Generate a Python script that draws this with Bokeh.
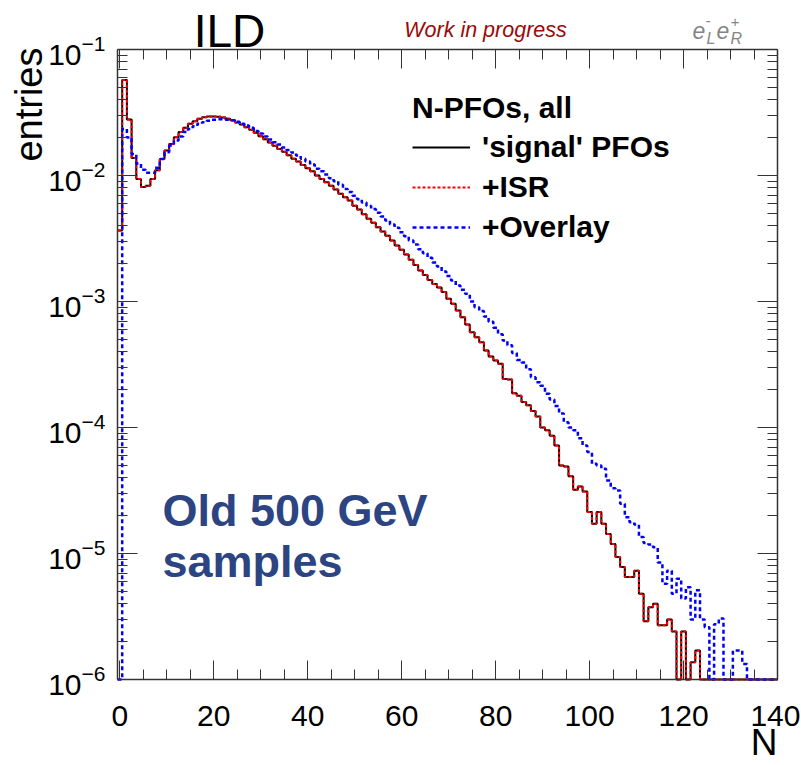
import numpy as np
from bokeh.plotting import figure
from bokeh.models import (Range1d, LinearAxis, LogAxis, FixedTicker, Label, Legend, LegendItem)
from bokeh.embed import file_html
from bokeh.resources import INLINE

# ---------------- data (bin contents, bins centred on N = 0,1,2,...) ----------------
signal = [3.66e-3, 5.74e-2, 2.78e-2, 1.38e-2, 9.4e-3, 8.1e-3, 8.3e-3, 9.4e-3, 1.10e-2, 1.35e-2,
          1.58e-2, 1.78e-2, 2.01e-2, 2.21e-2, 2.39e-2, 2.57e-2, 2.69e-2, 2.82e-2, 2.90e-2, 2.94e-2,
          2.94e-2, 2.92e-2, 2.88e-2, 2.82e-2, 2.74e-2, 2.64e-2, 2.54e-2, 2.42e-2, 2.31e-2, 2.18e-2,
          2.05e-2, 1.94e-2, 1.83e-2, 1.72e-2, 1.62e-2, 1.54e-2, 1.45e-2, 1.36e-2, 1.29e-2, 1.21e-2,
          1.14e-2, 1.08e-2, 1.00e-2, 9.4e-3, 8.85e-3, 8.28e-3, 7.74e-3, 7.16e-3, 6.73e-3, 6.34e-3,
          5.75e-3, 5.37e-3, 4.93e-3, 4.53e-3, 4.21e-3, 3.89e-3, 3.60e-3, 3.32e-3, 3.05e-3, 2.78e-3,
          2.57e-3, 2.36e-3, 2.14e-3, 1.95e-3, 1.76e-3, 1.62e-3, 1.48e-3, 1.38e-3, 1.29e-3, 1.19e-3,
          1.05e-3, 9.6e-4, 8.5e-4, 7.5e-4, 6.56e-4, 5.71e-4, 5.21e-4, 4.75e-4, 4.08e-4, 3.66e-4,
          3.40e-4, 3.20e-4, 2.43e-4, 2.40e-4, 1.87e-4, 1.79e-4, 1.59e-4, 1.50e-4, 1.35e-4, 1.22e-4,
          1.00e-4, 9.5e-5, 8.6e-5, 7.2e-5, 5.0e-5, 4.9e-5, 4.1e-5, 3.2e-5, 3.4e-5, 3.1e-5,
          2.13e-5, 1.72e-5, 2.13e-5, 1.72e-5, 1.43e-5, 1.19e-5, 9.4e-6, 7.8e-6, 6.5e-6, 6.5e-6,
          7.3e-6, 4.8e-6, 2.9e-6, 3.75e-6, 4.0e-6, 2.7e-6, 2.7e-6, 3.0e-6, 2.4e-6, 0.0,
          2.4e-6, 0.0, 1.37e-6, 1.7e-6, 0.0, 0.0, 0.0, 0.0, 0.0, 0.0,
          0.0, 0.0, 0.0, 0.0, 0.0, 0.0, 0.0, 0.0, 0.0, 0.0, 0.0]

isr = [3.66e-3, 5.74e-2, 2.78e-2, 1.38e-2, 9.4e-3, 8.1e-3, 8.3e-3, 9.4e-3, 1.10e-2, 1.35e-2,
       1.58e-2, 1.78e-2, 2.01e-2, 2.21e-2, 2.39e-2, 2.57e-2, 2.69e-2, 2.82e-2, 2.90e-2, 2.94e-2,
       2.94e-2, 2.92e-2, 2.88e-2, 2.82e-2, 2.74e-2, 2.64e-2, 2.54e-2, 2.42e-2, 2.31e-2, 2.18e-2,
       2.05e-2, 1.94e-2, 1.83e-2, 1.72e-2, 1.62e-2, 1.54e-2, 1.45e-2, 1.36e-2, 1.29e-2, 1.21e-2,
       1.14e-2, 1.08e-2, 1.00e-2, 9.4e-3, 8.85e-3, 8.28e-3, 7.74e-3, 7.16e-3, 6.73e-3, 6.34e-3,
       5.75e-3, 5.37e-3, 4.93e-3, 4.53e-3, 4.21e-3, 3.89e-3, 3.60e-3, 3.32e-3, 3.05e-3, 2.78e-3,
       2.57e-3, 2.36e-3, 2.14e-3, 1.95e-3, 1.76e-3, 1.62e-3, 1.48e-3, 1.38e-3, 1.29e-3, 1.19e-3,
       1.05e-3, 9.6e-4, 8.5e-4, 7.5e-4, 6.56e-4, 5.71e-4, 5.21e-4, 4.75e-4, 4.08e-4, 3.66e-4,
       3.40e-4, 3.20e-4, 2.43e-4, 2.40e-4, 1.87e-4, 1.79e-4, 1.59e-4, 1.50e-4, 1.35e-4, 1.22e-4,
       1.00e-4, 9.5e-5, 8.6e-5, 7.2e-5, 5.0e-5, 4.9e-5, 4.1e-5, 3.2e-5, 3.4e-5, 3.1e-5,
       2.13e-5, 1.72e-5, 2.13e-5, 1.72e-5, 1.43e-5, 1.19e-5, 9.4e-6, 7.8e-6, 6.5e-6, 6.5e-6,
       7.3e-6, 4.8e-6, 2.9e-6, 3.75e-6, 4.0e-6, 2.7e-6, 2.7e-6, 3.0e-6, 2.4e-6, 0.0,
       2.4e-6, 0.0, 1.37e-6, 1.7e-6, 0.0, 0.0, 0.0, 0.0, 0.0, 0.0,
       0.0, 0.0, 0.0, 0.0, 0.0, 0.0, 0.0, 0.0, 0.0, 0.0, 0.0]

overlay = [0.0, 2.34e-2, 2.00e-2, 1.48e-2, 1.245e-2, 1.11e-2, 1.05e-2, 1.05e-2, 1.15e-2, 1.355e-2,
           1.53e-2, 1.73e-2, 1.90e-2, 2.04e-2, 2.21e-2, 2.34e-2, 2.46e-2, 2.57e-2, 2.65e-2, 2.72e-2,
           2.77e-2, 2.80e-2, 2.80e-2, 2.77e-2, 2.74e-2, 2.67e-2, 2.58e-2, 2.49e-2, 2.39e-2, 2.26e-2,
           2.15e-2, 2.04e-2, 1.93e-2, 1.84e-2, 1.76e-2, 1.67e-2, 1.59e-2, 1.52e-2, 1.44e-2, 1.36e-2,
           1.29e-2, 1.22e-2, 1.13e-2, 1.08e-2, 1.02e-2, 9.53e-3, 9.02e-3, 8.43e-3, 7.83e-3, 7.41e-3,
           6.90e-3, 6.49e-3, 6.11e-3, 5.74e-3, 5.41e-3, 5.06e-3, 4.73e-3, 4.40e-3, 4.08e-3, 3.85e-3,
           3.55e-3, 3.30e-3, 3.05e-3, 2.83e-3, 2.60e-3, 2.42e-3, 2.22e-3, 2.04e-3, 1.90e-3, 1.73e-3,
           1.59e-3, 1.47e-3, 1.34e-3, 1.24e-3, 1.15e-3, 1.00e-3, 9.0e-4, 8.4e-4, 7.6e-4, 6.9e-4,
           6.2e-4, 5.5e-4, 4.9e-4, 4.5e-4, 3.9e-4, 3.44e-4, 3.28e-4, 2.90e-4, 2.50e-4, 2.29e-4,
           2.14e-4, 1.85e-4, 1.67e-4, 1.48e-4, 1.29e-4, 1.10e-4, 1.00e-4, 9.5e-5, 8.2e-5, 7.2e-5,
           6.4e-5, 5.15e-5, 5.0e-5, 4.7e-5, 3.8e-5, 3.3e-5, 3.16e-5, 2.48e-5, 1.94e-5, 1.77e-5,
           1.70e-5, 1.35e-5, 1.21e-5, 1.18e-5, 1.12e-5, 8.5e-6, 5.75e-6, 7.3e-6, 4.8e-6, 6.3e-6,
           4.4e-6, 5.4e-6, 3.0e-6, 5.1e-6, 3.0e-6, 2.6e-6, 0.0, 2.75e-6, 3.05e-6, 0.0,
           0.0, 1.7e-6, 1.7e-6, 1.33e-6, 0.0, 0.0, 0.0, 0.0, 0.0, 0.0, 0.0]

series_labels = ["'signal' PFOs", "+ISR", "+Overlay"]
legend_title = "N-PFOs, all"
x_major = [0, 20, 40, 60, 80, 100, 120, 140]
y_major = [1e-6, 1e-5, 1e-4, 1e-3, 1e-2, 1e-1]

X0, X1 = -0.5, 140.0          # axis extent (data)
Y0, Y1 = 1e-6, 1e-1

# ---------------- geometry ----------------
W, H = 800, 764
BL, BR, BT, BB = 117, 777, 49, 679      # axis box edges in canvas pixels
FONT = "Liberation Sans"

# the plot frame covers the whole canvas; the axes are drawn at fixed data locations
PXU = (BR - BL) / (X1 - X0)
PXD = (BB - BT) / (np.log10(Y1) - np.log10(Y0))
x_start = X0 - BL / PXU
x_end = x_start + W / PXU
ly_top = np.log10(Y1) + BT / PXD
ly_bot = ly_top - H / PXD

p = figure(width=W, height=H, output_backend="svg", toolbar_location=None, title=None,
           x_range=Range1d(x_start, x_end), y_range=Range1d(10 ** ly_bot, 10 ** ly_top),
           y_axis_type="log",
           min_border_left=0, min_border_right=0, min_border_top=0, min_border_bottom=0)
p.xgrid.visible = False
p.ygrid.visible = False
p.outline_line_color = None
p.background_fill_color = "white"
p.border_fill_color = "white"

x_ticker = FixedTicker(ticks=x_major, minor_ticks=list(range(5, 140, 5)))
y_minor = [m * t for t in y_major[:-1] for m in range(2, 10)]
y_ticker = FixedTicker(ticks=y_major, minor_ticks=y_minor)

AX_COL = "#333333"


def style_axis(ax, major, minor, show_labels):
    ax.axis_line_color = AX_COL
    ax.axis_line_width = 1.5
    ax.major_tick_line_color = AX_COL
    ax.minor_tick_line_color = AX_COL
    ax.major_tick_in = major
    ax.major_tick_out = 0
    ax.minor_tick_in = minor
    ax.minor_tick_out = 0
    ax.axis_label = None
    if show_labels:
        ax.major_label_text_font = FONT
        ax.major_label_text_font_size = "30px"
        ax.major_label_text_color = "black"
    else:
        ax.major_label_text_font_size = "4px"
        ax.major_label_text_alpha = 0
        ax.major_label_standoff = 0


bx = p.xaxis[0]
bx.ticker = x_ticker
bx.bounds = (X0, X1)
bx.fixed_location = Y0
style_axis(bx, 19, 10, True)
bx.major_label_standoff = 26

ly = p.yaxis[0]
ly.ticker = y_ticker
ly.bounds = (Y0, Y1)
ly.fixed_location = X0
style_axis(ly, 20, 10, True)
ly.major_label_standoff = 12

top = LinearAxis(ticker=x_ticker, bounds=(X0, X1), fixed_location=Y1)
style_axis(top, 19, 10, False)
p.add_layout(top, "above")
right = LogAxis(ticker=y_ticker, bounds=(Y0, Y1), fixed_location=X1)
style_axis(right, 20, 10, False)
p.add_layout(right, "right")

# ---------------- histograms ----------------
edges = np.minimum(np.arange(len(signal) + 1) - 0.5, X1)


def outline(vals):
    v = np.maximum(np.asarray(vals, dtype=float), Y0)
    return edges, np.append(v, v[-1])


xs, ys = outline(signal)
r_sig = p.step(xs, ys, mode="after", line_color="black", line_width=2)
xs, ys = outline(isr)
r_isr = p.step(xs, ys, mode="after", line_color="#ff0000", line_width=2, line_dash="3 2")
xs, ys = outline(overlay)
r_ovl = p.step(xs, ys, mode="after", line_color="#0000ff", line_width=2.5, line_dash="4 3")

legend = Legend(items=[LegendItem(label=series_labels[0], renderers=[r_sig]),
                       LegendItem(label=series_labels[1], renderers=[r_isr]),
                       LegendItem(label=series_labels[2], renderers=[r_ovl])],
                location=(412, H - 245), title=legend_title,
                title_text_font=FONT, title_text_font_style="bold", title_text_font_size="30px",
                title_text_color="black", title_standoff=4,
                label_text_font=FONT, label_text_font_style="bold", label_text_font_size="30px",
                label_text_color="black",
                glyph_width=58, glyph_height=36, label_height=36, label_standoff=12, spacing=4,
                padding=0, margin=0, background_fill_alpha=0, border_line_alpha=0)
p.add_layout(legend)

# ---------------- texts ----------------


def at(px, py):
    return float(x_start + px / PXU), float(10 ** (ly_top - py / PXD))


def label(text, px, py, size, align="left", color="black", style="normal", angle=0.0):
    """(px, py) = baseline anchor in canvas pixels."""
    fs = float(size.replace("px", ""))
    if angle:
        x, y = at(px - 0.35 * fs, py)
    else:
        x, y = at(px, py - 0.35 * fs)
    p.add_layout(Label(x=x, y=y, text=text, text_font=FONT, text_font_size=size,
                       text_align=align, text_baseline="middle", text_color=color,
                       text_font_style=style, angle=angle))


label("ILD", 229, 47, "46px", align="center")
label("Work in progress", 485, 37, "21.5px", align="center", color="#9a0a0a", style="italic")
GRAY = "#858585"
label("e", 692, 38, "23px", color=GRAY, style="italic")
label("-", 705, 26, "15px", color=GRAY, style="italic")
label("L", 706, 44, "16px", color=GRAY, style="italic")
label("e", 716, 38, "23px", color=GRAY, style="italic")
label("+", 730, 27, "15px", color=GRAY, style="italic")
label("R", 730, 44, "16px", color=GRAY, style="italic")
label("entries", 42, 47, "38px", align="right", angle=float(np.pi / 2))
label("N", 777, 755, "37px", align="right")
label("Old 500 GeV", 162, 526, "45px", color="#2c4482", style="bold")
label("samples", 162, 577, "45px", color="#2c4482", style="bold")

open("out.html", "w").write(file_html(p, INLINE))
